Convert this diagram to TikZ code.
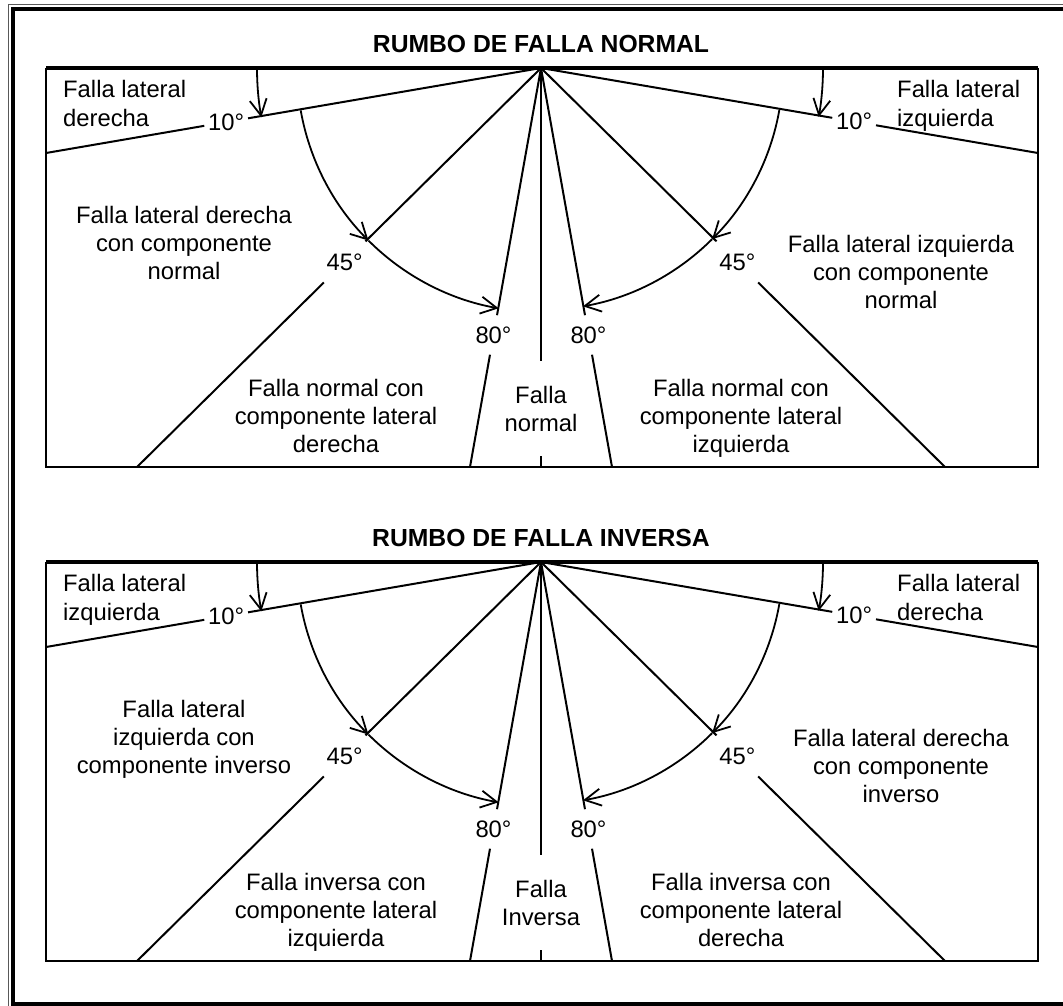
\documentclass[tikz,border=0pt]{standalone}
\usepackage{fontspec}
\setmainfont{Liberation Sans}
\usetikzlibrary{arrows.meta,calc}
\tikzset{
  radial/.style={line width=2pt},
  boxline/.style={line width=2.6pt},
  topline/.style={line width=4.2pt},
  arcarrow/.style={line width=1.8pt,-{Straight Barb[length=16pt,width=17pt]}},
  body/.style={font=\fontsize{23.8}{28}\selectfont,align=center,inner sep=0pt,anchor=north},
  corner/.style={font=\fontsize{23.8}{28.5}\selectfont,align=left,inner sep=0pt,anchor=north west},
  centre/.style={font=\fontsize{23.8}{28}\selectfont,align=center,inner xsep=0pt,inner ysep=25pt},
  ttl/.style={font=\fontsize{24.7}{28}\selectfont\bfseries,inner sep=0pt},
  degl/.style={font=\fontsize{23.8}{28}\selectfont,circle,inner sep=0pt,minimum size=#1},
  thinframe/.style={line width=1pt,black!65},
  thickframe/.style={line width=4.2pt},
}
\newcommand\faultpanel[8]{%
  \coordinate (apex) at (541,68);
  \coordinate (tl) at (46,68);
  \coordinate (tr) at (1038,68);
  \coordinate (bl) at (46,467);
  \coordinate (br) at (1038,467);
  \coordinate (e10L) at (46,153);
  \coordinate (e10R) at (1038,153);
  \coordinate (e45L) at (137,467);
  \coordinate (e45R) at (945,467);
  \coordinate (e80L) at (470,467);
  \coordinate (e80R) at (612,467);
  \coordinate (e90) at (541,467);
  \node[ttl] (title) at (541,44) {#1};
  \draw[boxline] (tl) -- (bl) -- (br) -- (tr);
  \draw[topline] (tl) -- (tr);
  \node[degl=44pt] (d10L) at ($(apex)!0.636!(e10L)$) {10°};
  \node[degl=44pt] (d10R) at ($(apex)!0.63!(e10R)$) {10°};
  \node[degl=58pt] (d45L) at ($(apex)!0.486!(e45L)$) {45°};
  \node[degl=58pt] (d45R) at ($(apex)!0.486!(e45R)$) {45°};
  \node[degl=36pt] (d80L) at ($(apex)!0.669!(e80L)$) {80°};
  \node[degl=36pt] (d80R) at ($(apex)!0.669!(e80R)$) {80°};
  \node[centre] (c90) at (541,408.5) {#7};
  \draw[radial] (apex) -- (d10L) (d10L) -- (e10L);
  \draw[radial] (apex) -- (d10R) (d10R) -- (e10R);
  \draw[radial] (apex) -- (d45L) (d45L) -- (e45L);
  \draw[radial] (apex) -- (d45R) (d45R) -- (e45R);
  \draw[radial] (apex) -- (d80L) (d80L) -- (e80L);
  \draw[radial] (apex) -- (d80R) (d80R) -- (e80R);
  \draw[radial] (apex) -- (c90) (c90) -- (e90);
  \coordinate (s10L) at ($(apex)+(180:284)$);
  \coordinate (a10L) at ($(apex)+(170:244)$);
  \coordinate (a45L) at ($(apex)+(135:244)$);
  \coordinate (s10R) at ($(apex)+(0:282)$);
  \coordinate (a10R) at ($(apex)+(10:242)$);
  \coordinate (a45R) at ($(apex)+(45:242)$);
  \draw[arcarrow] (s10L) arc[start angle=180,end angle=170,radius=284];
  \draw[arcarrow] (a10L) arc[start angle=170,end angle=135,radius=244];
  \draw[arcarrow] (a45L) arc[start angle=135,end angle=100,radius=244];
  \draw[arcarrow] (s10R) arc[start angle=0,end angle=10,radius=282];
  \draw[arcarrow] (a10R) arc[start angle=10,end angle=45,radius=242];
  \draw[arcarrow] (a45R) arc[start angle=45,end angle=80,radius=242];
  \node[corner] (tlt) at (63,80.5) {#2};
  \node[corner] (trt) at (897,80.5) {#3};
  \node[body] (mlt) at (184,206.5) {#4};
  \node[body] (mrt) at (901,235.5) {#5};
  \node[body] (llt) at (336,379.5) {#6};
  \node[body] (lrt) at (741,379.5) {#8};
}
\begin{document}
\begin{tikzpicture}[x=1pt,y=-1pt]
\useasboundingbox (0,0) rectangle (1063,1005);
\clip (0,0) rectangle (1063,1005);
\draw[thinframe] (8.5,4) rectangle (1100,1100);
\draw[thickframe] (13,8.7) rectangle (1090,1004.5);
\begin{scope}[name prefix=a-]
\faultpanel{RUMBO DE FALLA NORMAL}{Falla lateral\\derecha}{Falla lateral\\izquierda}{Falla lateral derecha\\con componente\\normal}{Falla lateral izquierda\\con componente\\normal}{Falla normal con\\componente lateral\\derecha}{Falla\\normal}{Falla normal con\\componente lateral\\izquierda}
\end{scope}
\begin{scope}[shift={(0,494)},name prefix=b-]
\faultpanel{RUMBO DE FALLA INVERSA}{Falla lateral\\izquierda}{Falla lateral\\derecha}{Falla lateral\\izquierda con\\componente inverso}{Falla lateral derecha\\con componente\\inverso}{Falla inversa con\\componente lateral\\izquierda}{Falla\\Inversa}{Falla inversa con\\componente lateral\\derecha}
\end{scope}
\end{tikzpicture}
\end{document}
